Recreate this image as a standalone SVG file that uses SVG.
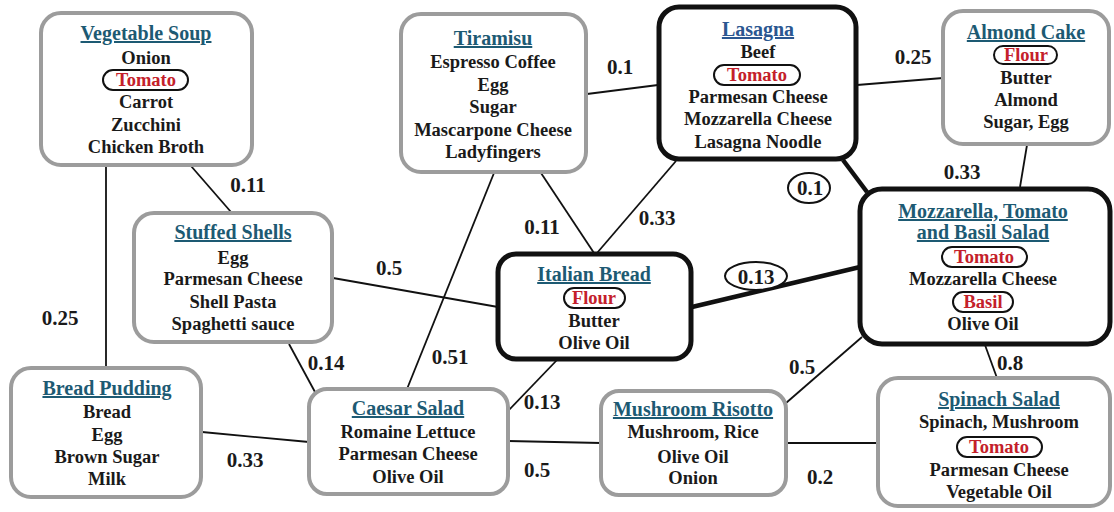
<svg xmlns="http://www.w3.org/2000/svg" width="1114" height="512" viewBox="0 0 1114 512">
<style>
text{font-family:"Liberation Serif","Times New Roman",serif;font-weight:bold;text-anchor:middle;fill:#1a1a1a}
.t{font-size:20px;fill:#1d5a73;text-decoration:underline}
.b{font-size:18.5px}
.r{font-size:18.5px;fill:#c4202a}
.lbl{font-size:21px}
.gbox{fill:#fff;stroke:#9c9c9c;stroke-width:4}
.kbox{fill:#fff;stroke:#111;stroke-width:5}
.pill{fill:none;stroke:#111;stroke-width:2}
.e{stroke:#111;stroke-width:1.8;fill:none}
.thick{stroke:#111;stroke-width:4.5;fill:none}
.circ{fill:#fff;stroke:#111;stroke-width:2}
</style>
<rect width="1114" height="512" fill="#fff"/>
<g id="connectors">
<line class="e" x1="106" y1="166" x2="106" y2="367"/>
<line class="e" x1="191" y1="166" x2="231" y2="212"/>
<line class="e" x1="587" y1="94" x2="658" y2="85"/>
<line class="e" x1="494" y1="173" x2="407" y2="389"/>
<line class="e" x1="541" y1="173" x2="594" y2="253"/>
<line class="e" x1="676" y1="161" x2="597" y2="253"/>
<line class="e" x1="857" y1="85" x2="943" y2="78"/>
<line class="thick" x1="843" y1="160" x2="867" y2="192"/>
<line class="e" x1="1027" y1="145" x2="1020" y2="187"/>
<line class="thick" x1="692" y1="307" x2="860" y2="267"/>
<line class="e" x1="333" y1="278" x2="498" y2="307"/>
<line class="e" x1="289" y1="344" x2="315" y2="392"/>
<line class="e" x1="202" y1="432" x2="309" y2="442"/>
<line class="e" x1="557" y1="360" x2="507" y2="412"/>
<line class="e" x1="508" y1="441" x2="601" y2="443"/>
<line class="e" x1="786" y1="403" x2="862" y2="337"/>
<line class="e" x1="786" y1="443" x2="878" y2="443"/>
<line class="e" x1="985" y1="345" x2="997" y2="378"/>
<text class="lbl" x="60" y="325">0.25</text>
<text class="lbl" x="248" y="192">0.11</text>
<text class="lbl" x="620" y="74">0.1</text>
<text class="lbl" x="913" y="64">0.25</text>
<text class="lbl" x="962" y="179">0.33</text>
<ellipse class="circ" cx="809" cy="188" rx="21" ry="15"/>
<text class="lbl" x="810" y="195">0.1</text>
<text class="lbl" x="542" y="234">0.11</text>
<text class="lbl" x="657" y="225">0.33</text>
<ellipse class="circ" cx="756" cy="276" rx="31" ry="14"/>
<text class="lbl" x="756" y="284">0.13</text>
<text class="lbl" x="389" y="275">0.5</text>
<text class="lbl" x="326" y="370">0.14</text>
<text class="lbl" x="450" y="364">0.51</text>
<text class="lbl" x="542" y="409">0.13</text>
<text class="lbl" x="245" y="467">0.33</text>
<text class="lbl" x="537" y="477">0.5</text>
<text class="lbl" x="802" y="374">0.5</text>
<text class="lbl" x="820" y="484">0.2</text>
<text class="lbl" x="1010" y="370">0.8</text>
</g>
<g id="vegetable-soup">
<rect class="gbox" x="41" y="13" width="211" height="152" rx="20"/>
<text class="t" x="146" y="40">Vegetable Soup</text>
<text class="b" x="146" y="64">Onion</text>
<rect class="pill" x="103" y="70" width="85" height="20" rx="10"/>
<text class="r" x="146" y="86">Tomato</text>
<text class="b" x="146" y="108">Carrot</text>
<text class="b" x="146" y="131">Zucchini</text>
<text class="b" x="146" y="153">Chicken Broth</text>
</g>
<g id="tiramisu">
<rect class="gbox" x="401" y="14" width="185" height="158" rx="20"/>
<text class="t" x="493" y="45">Tiramisu</text>
<text class="b" x="493" y="68">Espresso Coffee</text>
<text class="b" x="493" y="91">Egg</text>
<text class="b" x="493" y="113">Sugar</text>
<text class="b" x="493" y="136">Mascarpone Cheese</text>
<text class="b" x="493" y="158">Ladyfingers</text>
</g>
<g id="lasagna">
<rect class="kbox" x="659" y="7" width="197" height="152" rx="20"/>
<text class="t" x="758" y="36" style="fill:#2b5791">Lasagna</text>
<text class="b" x="758" y="58">Beef</text>
<rect class="pill" x="714" y="65" width="86" height="20" rx="10"/>
<text class="r" x="757" y="81">Tomato</text>
<text class="b" x="758" y="103">Parmesan Cheese</text>
<text class="b" x="758" y="125">Mozzarella Cheese</text>
<text class="b" x="758" y="148">Lasagna Noodle</text>
</g>
<g id="almond-cake">
<rect class="gbox" x="943" y="11" width="166" height="133" rx="20"/>
<text class="t" x="1026" y="39">Almond Cake</text>
<rect class="pill" x="994" y="46" width="63" height="18" rx="9"/>
<text class="r" x="1026" y="61">Flour</text>
<text class="b" x="1026" y="84">Butter</text>
<text class="b" x="1026" y="106">Almond</text>
<text class="b" x="1026" y="128">Sugar, Egg</text>
</g>
<g id="mozzarella-salad">
<rect class="kbox" x="860" y="189" width="250" height="155" rx="22"/>
<text class="t" x="983" y="218">Mozzarella, Tomato</text>
<text class="t" x="983" y="239">and Basil Salad</text>
<rect class="pill" x="942" y="247" width="85" height="20" rx="10"/>
<text class="r" x="984" y="263">Tomato</text>
<text class="b" x="983" y="285">Mozzarella Cheese</text>
<rect class="pill" x="953" y="292" width="60" height="20" rx="10"/>
<text class="r" x="983" y="308">Basil</text>
<text class="b" x="983" y="330">Olive Oil</text>
</g>
<g id="stuffed-shells">
<rect class="gbox" x="134" y="213" width="198" height="129" rx="20"/>
<text class="t" x="233" y="239">Stuffed Shells</text>
<text class="b" x="233" y="264">Egg</text>
<text class="b" x="233" y="285">Parmesan Cheese</text>
<text class="b" x="233" y="308">Shell Pasta</text>
<text class="b" x="233" y="330">Spaghetti sauce</text>
</g>
<g id="italian-bread">
<rect class="kbox" x="498" y="254" width="193" height="105" rx="18"/>
<text class="t" x="594" y="281">Italian Bread</text>
<rect class="pill" x="564" y="288" width="61" height="20" rx="10"/>
<text class="r" x="594" y="304">Flour</text>
<text class="b" x="594" y="327">Butter</text>
<text class="b" x="594" y="349">Olive Oil</text>
</g>
<g id="bread-pudding">
<rect class="gbox" x="11" y="368" width="190" height="129" rx="20"/>
<text class="t" x="107" y="395">Bread Pudding</text>
<text class="b" x="107" y="418">Bread</text>
<text class="b" x="107" y="441">Egg</text>
<text class="b" x="107" y="463">Brown Sugar</text>
<text class="b" x="107" y="485">Milk</text>
</g>
<g id="caesar-salad">
<rect class="gbox" x="309" y="389" width="199" height="105" rx="18"/>
<text class="t" x="408" y="415">Caesar Salad</text>
<text class="b" x="408" y="438">Romaine Lettuce</text>
<text class="b" x="408" y="460">Parmesan Cheese</text>
<text class="b" x="408" y="483">Olive Oil</text>
</g>
<g id="mushroom-risotto">
<rect class="gbox" x="601" y="391" width="185" height="104" rx="18"/>
<text class="t" x="693" y="416">Mushroom Risotto</text>
<text class="b" x="693" y="438">Mushroom, Rice</text>
<text class="b" x="693" y="463">Olive Oil</text>
<text class="b" x="693" y="484">Onion</text>
</g>
<g id="spinach-salad">
<rect class="gbox" x="878" y="378" width="232" height="128" rx="20"/>
<text class="t" x="999" y="406">Spinach Salad</text>
<text class="b" x="999" y="428">Spinach, Mushroom</text>
<rect class="pill" x="957" y="437" width="85" height="20" rx="10"/>
<text class="r" x="999" y="453">Tomato</text>
<text class="b" x="999" y="476">Parmesan Cheese</text>
<text class="b" x="999" y="498">Vegetable Oil</text>
</g>
</svg>
